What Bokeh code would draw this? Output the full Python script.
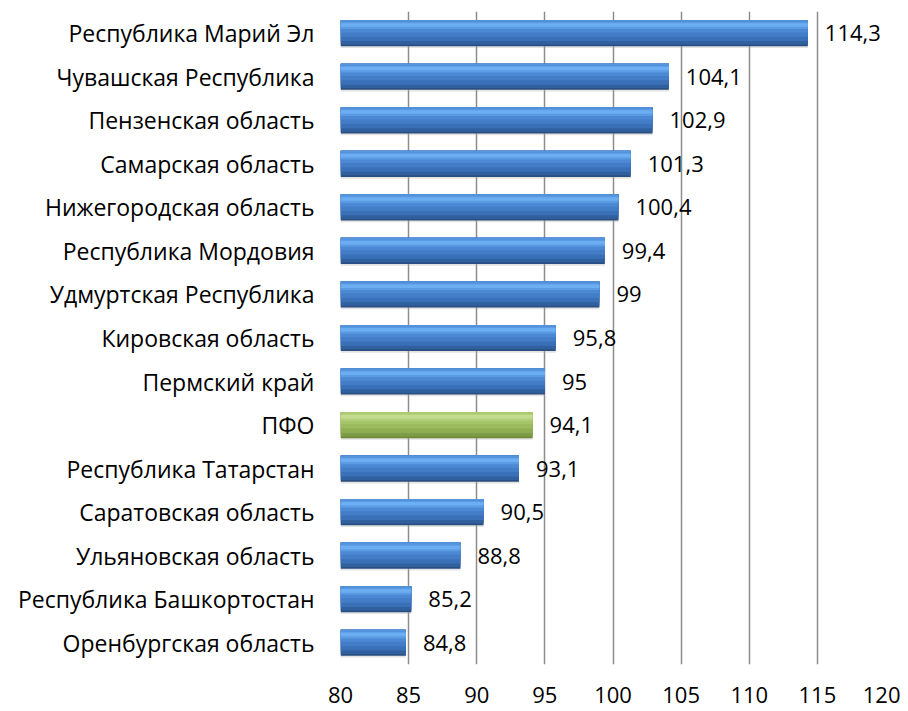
from bokeh.plotting import figure
from bokeh.models import ColumnDataSource, Range1d, FixedTicker
from bokeh.transform import dodge
from bokeh.core.properties import value
from bokeh.embed import file_html
from bokeh.resources import INLINE

regions = ["Республика Марий Эл", "Чувашская Республика", "Пензенская область",
           "Самарская область", "Нижегородская область", "Республика Мордовия",
           "Удмуртская Республика", "Кировская область", "Пермский край", "ПФО",
           "Республика Татарстан", "Саратовская область", "Ульяновская область",
           "Республика Башкортостан", "Оренбургская область"]
values = [114.3, 104.1, 102.9, 101.3, 100.4, 99.4, 99, 95.8, 95, 94.1,
          93.1, 90.5, 88.8, 85.2, 84.8]
ticks = [80, 85, 90, 95, 100, 105, 110, 115, 120]
highlight = "ПФО"

FONT = "Open Sans"
labels = [f"{v:g}".replace(".", ",") for v in values]

def cols(c_blue, c_green):
    return [c_green if r == highlight else c_blue for r in regions]

src = ColumnDataSource(dict(
    cat=regions, val=values, lab=labels,
    shadow=["#b0b0b0"] * len(regions),
    c0=cols("#2a4f82", "#6f8a3a"),
    c1=cols("#31609f", "#7f9c47"),
    c2=cols("#3a70b8", "#8fae52"),
    c3=cols("#437dc8", "#9aba5c"),
    c4=cols("#4b89d4", "#a5c568"),
    c5=cols("#5b9be3", "#b3d07c"),
    c6=cols("#6caef2", "#c3dc92"),
    c7=cols("#5596de", "#aecb74"),
))

p = figure(width=900, height=710, y_range=list(reversed(regions)),
           x_range=Range1d(80, 120), output_backend="svg", toolbar_location=None,
           min_border_left=340, min_border_right=15, min_border_top=11,
           min_border_bottom=46)
p.outline_line_color = None
p.background_fill_color = "white"

# (color column, bottom, top) in category-fraction units, bar spans -0.3..0.3
layers = [
    ("shadow", -0.34, 0.26, 0.35),
    ("c0", -0.30, 0.30, 1.0),
    ("c1", -0.26, 0.30, 1.0),
    ("c2", -0.18, 0.30, 1.0),
    ("c3", -0.08, 0.30, 1.0),
    ("c4", 0.02, 0.30, 1.0),
    ("c5", 0.10, 0.26, 1.0),
    ("c6", 0.15, 0.23, 1.0),
    ("c7", 0.27, 0.30, 1.0),
]
for col, b, t, a in layers:
    p.hbar(y=dodge("cat", (b + t) / 2, range=p.y_range), left=80, right="val",
           height=t - b, fill_color=col, line_color=None, fill_alpha=a, source=src)

p.text(x="val", y="cat", text="lab", source=src, x_offset=17,
       text_baseline="middle", text_align="left", text_font=value(FONT),
       text_font_size="22px", text_color="#000000")

p.xaxis.ticker = FixedTicker(ticks=ticks)
p.xaxis.axis_line_color = None
p.xaxis.major_tick_line_color = None
p.xaxis.minor_tick_line_color = None
p.xaxis.major_label_standoff = 16
p.xaxis.major_label_text_font = FONT
p.xaxis.major_label_text_font_size = "22px"
p.xaxis.major_label_text_color = "#000000"

p.yaxis.axis_line_color = None
p.yaxis.major_tick_line_color = None
p.yaxis.minor_tick_line_color = None
p.yaxis.major_label_standoff = 20
p.yaxis.major_label_text_font = FONT
p.yaxis.major_label_text_font_size = "23px"
p.yaxis.major_label_text_color = "#000000"

p.xgrid.ticker = FixedTicker(ticks=ticks)
p.xgrid.grid_line_color = "#8c8c8c"
p.xgrid.grid_line_width = 1.5
p.ygrid.grid_line_color = None
p.xgrid.level = "underlay"

open("out.html", "w").write(file_html(p, INLINE))
